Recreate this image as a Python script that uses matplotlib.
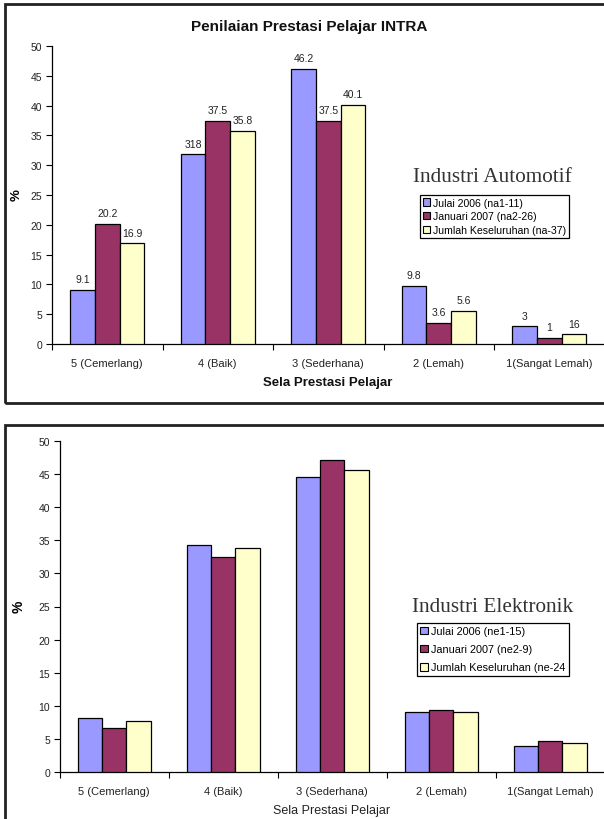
import matplotlib
matplotlib.use("Agg")
import matplotlib.pyplot as plt
from matplotlib.patches import Rectangle, Patch
import numpy as np

plt.rcParams['font.family'] = ['Liberation Sans', 'DejaVu Sans']

categories = ["5 (Cemerlang)", "4 (Baik)", "3 (Sederhana)", "2 (Lemah)", "1(Sangat Lemah)"]

# Top chart: Industri Automotif
auto_julai = [9.1, 31.8, 46.2, 9.8, 3.0]
auto_januari = [20.2, 37.5, 37.5, 3.6, 1.0]
auto_jumlah = [16.9, 35.8, 40.1, 5.6, 1.6]
auto_lbl_julai = ["9.1", "318", "46.2", "9.8", "3"]
auto_lbl_januari = ["20.2", "37.5", "37.5", "3.6", "1"]
auto_lbl_jumlah = ["16.9", "35.8", "40.1", "5.6", "16"]
auto_legend = ["Julai 2006 (na1-11)", "Januari 2007 (na2-26)", "Jumlah Keseluruhan (na-37)"]

# Bottom chart: Industri Elektronik
elek_julai = [8.2, 34.3, 44.5, 9.0, 4.0]
elek_januari = [6.6, 32.5, 47.2, 9.4, 4.7]
elek_jumlah = [7.7, 33.8, 45.6, 9.0, 4.4]
elek_legend = ["Julai 2006 (ne1-15)", "Januari 2007 (ne2-9)", "Jumlah Keseluruhan (ne-24"]

colors = ["#9999FF", "#993366", "#FFFFCC"]
yticks = list(range(0, 55, 5))

W, H = 604, 820
fig = plt.figure(figsize=(W / 100, H / 100), dpi=100)


def fx(px):
    return px / W


def fy(py):
    return 1 - py / H


# panel borders
fig.patches.append(Rectangle((fx(5), fy(404)), fx(700), fy(5) - fy(404),
                             transform=fig.transFigure, fill=False,
                             edgecolor="#222222", linewidth=2))
fig.patches.append(Rectangle((fx(5), fy(900)), fx(700), fy(426) - fy(900),
                             transform=fig.transFigure, fill=False,
                             edgecolor="#222222", linewidth=2))


def draw(ax, series, labels):
    x = np.arange(len(categories))
    w = 0.224
    for j, (vals, c) in enumerate(zip(series, colors)):
        bars = ax.bar(x + (j - 1) * w, vals, width=w, color=c, edgecolor="black",
                      linewidth=0.9, zorder=3)
        if labels is not None:
            for b, t in zip(bars, labels[j]):
                ax.annotate(t, (b.get_x() + b.get_width() / 2, b.get_height()),
                            xytext=(0, 4), textcoords="offset points",
                            ha="center", va="bottom", fontsize=7.5, color="#222222")
    ax.set_xlim(-0.5, len(categories) - 0.5)
    ax.set_ylim(0, 50)
    ax.set_yticks(yticks)
    ax.set_xticks(x)
    ax.set_xticklabels(categories, fontsize=8, color="#222222")
    ax.set_xticks(np.arange(len(categories) + 1) - 0.5, minor=True)
    ax.tick_params(axis="x", which="major", length=0, pad=10)
    ax.tick_params(axis="x", which="minor", length=4, direction="out", width=0.8)
    ax.tick_params(axis="y", length=4, direction="out", width=0.8, labelsize=7.5,
                   labelcolor="#222222", pad=3)
    for s in ("top", "right"):
        ax.spines[s].set_visible(False)
    for s in ("left", "bottom"):
        ax.spines[s].set_linewidth(0.9)
    ax.set_facecolor("none")


# Top axes
ax1 = fig.add_axes([fx(52), fy(345), fx(604.5 - 52), fy(47) - fy(345)])
draw(ax1, [auto_julai, auto_januari, auto_jumlah],
     [auto_lbl_julai, auto_lbl_januari, auto_lbl_jumlah])
fig.text(fx(309), fy(27), "Penilaian Prestasi Pelajar INTRA", ha="center", va="center",
         fontsize=11, fontweight="bold", color="#111111")
fig.text(fx(17), fy(195), "%", rotation=90, ha="center", va="center",
         fontsize=9.5, fontweight="bold")
fig.text(fx(328), fy(383), "Sela Prestasi Pelajar", ha="center", va="center",
         fontsize=9.5, fontweight="bold", color="#111111")
fig.text(fx(492), fy(182), "Industri Automotif", ha="center", va="baseline",
         fontsize=15.3, family="Liberation Serif", color="#333333")
h1 = [Patch(facecolor=c, edgecolor="black", linewidth=0.8) for c in colors]
leg1 = fig.legend(h1, auto_legend, loc="upper left",
                  bbox_to_anchor=(fx(420), fy(196)), fontsize=7.6,
                  handlelength=0.7, handleheight=0.7, handletextpad=0.3,
                  borderpad=0.25, labelspacing=0.35, borderaxespad=0,
                  fancybox=False, framealpha=1, edgecolor="black")
leg1.get_frame().set_linewidth(0.9)

# Bottom axes
ax2 = fig.add_axes([fx(59.7), fy(773), fx(604.7 - 59.7), fy(442) - fy(773)])
draw(ax2, [elek_julai, elek_januari, elek_jumlah], None)
fig.text(fx(19), fy(607), "%", rotation=90, ha="center", va="center",
         fontsize=10, fontweight="bold")
fig.text(fx(332), fy(811), "Sela Prestasi Pelajar", ha="center", va="center",
         fontsize=9, color="#222222")
fig.text(fx(493), fy(612), "Industri Elektronik", ha="center", va="baseline",
         fontsize=15.3, family="Liberation Serif", color="#333333")
h2 = [Patch(facecolor=c, edgecolor="black", linewidth=0.8) for c in colors]
leg2 = fig.legend(h2, elek_legend, loc="upper left",
                  bbox_to_anchor=(fx(417), fy(624)), fontsize=7.8,
                  handlelength=0.7, handleheight=0.7, handletextpad=0.3,
                  borderpad=0.3, labelspacing=0.75, borderaxespad=0,
                  fancybox=False, framealpha=1, edgecolor="black")
leg2.get_frame().set_linewidth(0.9)

fig.savefig("out.png", dpi=100)
